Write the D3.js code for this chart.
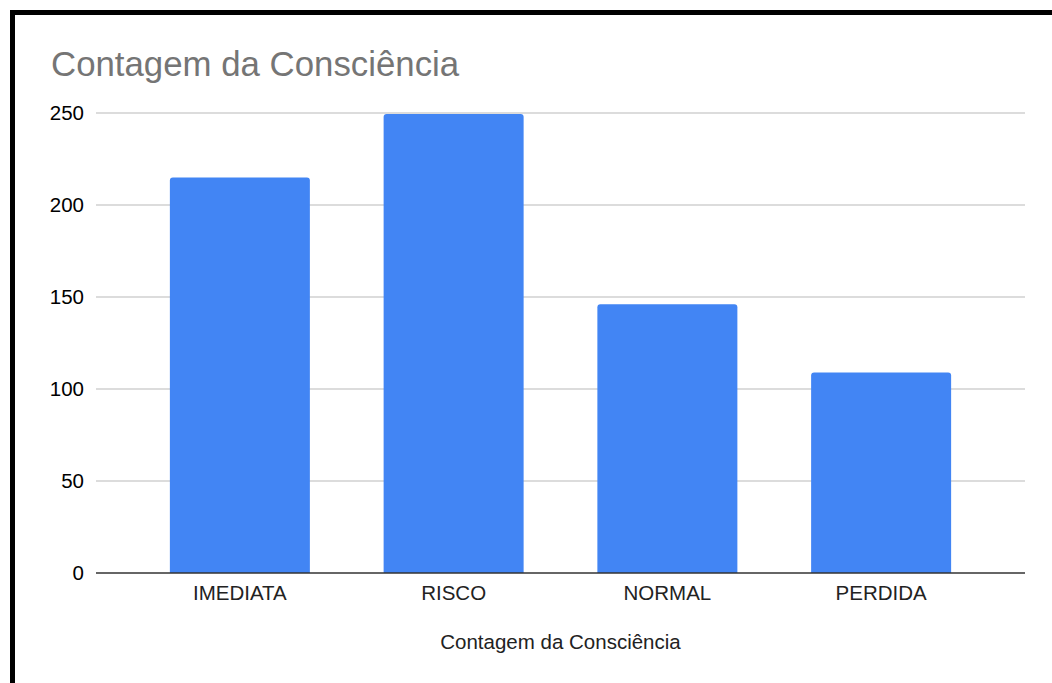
<!DOCTYPE html>
<html><head><meta charset="utf-8">
<script src="https://cdn.jsdelivr.net/npm/d3@7"></script>
<style>html,body{margin:0;padding:0;background:#fff;}svg{display:block;}</style>
</head><body>
<script>
const categories = ["IMEDIATA", "RISCO", "NORMAL", "PERDIDA"];
const values = [215, 249.5, 146, 109];
const yTicks = [0, 50, 100, 150, 200, 250];
const title = "Contagem da Consciência";
const xTitle = "Contagem da Consciência";

const W = 1052, H = 683;
const svg = d3.select("body").append("svg").attr("width", W).attr("height", H);
const font = "'Liberation Sans', Arial, sans-serif";

// border
svg.append("rect").attr("x", 10).attr("y", 10).attr("width", W).attr("height", 5).attr("fill", "#000");
svg.append("rect").attr("x", 10).attr("y", 10).attr("width", 5).attr("height", H).attr("fill", "#000");

const x = d3.scaleBand().domain(categories).range([133, 988]).paddingInner(0.345).paddingOuter(0.1725);
const y = d3.scaleLinear().domain([0, 250]).range([573, 113]);
const gx0 = 96, gx1 = 1025;

svg.append("text").attr("x", 51).attr("y", 76).attr("font-family", font).attr("font-size", 34.8)
  .attr("fill", "#757575").text(title);

const grid = svg.append("g");
grid.selectAll("line").data(yTicks.filter(d => d !== 0)).join("line")
  .attr("x1", gx0).attr("x2", gx1).attr("y1", d => y(d)).attr("y2", d => y(d))
  .attr("stroke", "#d0d0d0").attr("stroke-width", 1.5);

const yAxis = svg.append("g").attr("transform", `translate(${gx0},0)`)
  .call(d3.axisLeft(y).tickValues(yTicks).tickSize(0).tickPadding(12));
yAxis.select(".domain").remove();
yAxis.selectAll("text").attr("font-family", font).attr("font-size", 20.5).attr("fill", "#000");

const r = 3;
svg.append("g").selectAll("path").data(values).join("path")
  .attr("fill", "#4285F4")
  .attr("d", (d, i) => {
    const x0 = x(categories[i]), w = x.bandwidth(), y0 = y(d), y1 = y(0);
    return `M${x0},${y1}V${y0 + r}Q${x0},${y0} ${x0 + r},${y0}H${x0 + w - r}Q${x0 + w},${y0} ${x0 + w},${y0 + r}V${y1}Z`;
  });

svg.append("line").attr("x1", gx0).attr("x2", gx1).attr("y1", y(0)).attr("y2", y(0))
  .attr("stroke", "#333").attr("stroke-width", 1.5);

const xAxis = svg.append("g").attr("transform", `translate(0,${y(0)})`)
  .call(d3.axisBottom(x).tickSize(0).tickPadding(12));
xAxis.select(".domain").remove();
xAxis.selectAll("text").attr("font-family", font).attr("font-size", 20.5).attr("fill", "#222");

svg.append("text").attr("x", 560.5).attr("y", 649)
  .attr("text-anchor", "middle").attr("font-family", font).attr("font-size", 20.5).attr("fill", "#222").text(xTitle);
</script>
</body></html>
